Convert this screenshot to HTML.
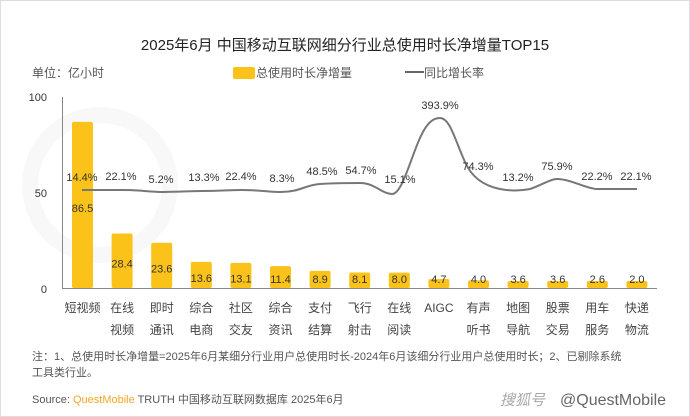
<!DOCTYPE html>
<html><head><meta charset="utf-8"><style>
body{margin:0;background:#fff}
svg{display:block}
text{font-family:"Liberation Sans","Noto Sans CJK SC",sans-serif}
</style></head><body>
<svg width="690" height="417" viewBox="0 0 690 417" xmlns="http://www.w3.org/2000/svg">
<rect x="0.5" y="0.5" width="689" height="416" fill="#fff" stroke="#ddd" stroke-width="1"/>
<circle cx="100" cy="185" r="70" fill="none" stroke="#f8f8f8" stroke-width="16"/>
<text x="345" y="50" text-anchor="middle" font-size="15" fill="#222">2025年6月 中国移动互联网细分行业总使用时长净增量TOP15</text>
<text x="32" y="77" font-size="12" fill="#555">单位：亿小时</text>
<rect x="233" y="67" width="22" height="12" rx="2" fill="#fbc21a"/>
<text x="256" y="77" font-size="12" fill="#555">总使用时长净增量</text>
<line x1="405" y1="72" x2="424" y2="72" stroke="#666" stroke-width="2"/>
<text x="424" y="77" font-size="12" fill="#555">同比增长率</text>
<g font-size="11" fill="#333" text-anchor="end">
<text x="47" y="101">100</text><text x="47" y="197">50</text><text x="47" y="293">0</text>
</g>
<line x1="62.5" y1="97" x2="62.5" y2="289" stroke="#888" stroke-width="1"/>
<line x1="62" y1="288.5" x2="657" y2="288.5" stroke="#888" stroke-width="1"/>
<g id="bars" fill="#fbc21a"></g>
<g id="blab" font-size="11" fill="#333" text-anchor="middle"></g>
<path d="M82,190 C100,190 110,190 123,190 C140,190 150,192 163,192 C180,192 190,191 202,191 C220,191 230,190 241,190 C260,190 270,192 281,192 C300,192 305,185 320,184 C335,183 345,183 360,183 C375,183 382,194 392,194 C402,194 410,160 420,138 C428,120 435,118 440,118 C450,118 455,140 465,162 C472,178 485,186 500,189 C510,191 520,191 530,189 C540,186 550,179 557,179 C570,179 585,188 596,189 C610,189 625,189 637,189" fill="none" stroke="#777" stroke-width="2"/>
<g font-size="11" fill="#333" text-anchor="middle">
<text x="82" y="181">14.4%</text><text x="121" y="180">22.1%</text><text x="161" y="183">5.2%</text>
<text x="204" y="181">13.3%</text><text x="241" y="180">22.4%</text><text x="282" y="182">8.3%</text>
<text x="322" y="175">48.5%</text><text x="361" y="174">54.7%</text><text x="400" y="183">15.1%</text>
<text x="440" y="109">393.9%</text><text x="478" y="170">74.3%</text><text x="518" y="181">13.2%</text>
<text x="557" y="170">75.9%</text><text x="597" y="180">22.2%</text><text x="636" y="180">22.1%</text>
</g>
<g id="cats" font-size="12" fill="#444" text-anchor="middle"></g>
<text x="32" y="360" font-size="11" fill="#555">注：1、总使用时长净增量=2025年6月某细分行业用户总使用时长-2024年6月该细分行业用户总使用时长；2、已剔除系统</text>
<text x="32" y="376" font-size="11" fill="#555">工具类行业。</text>
<text x="32" y="403" font-size="11" fill="#555">Source: <tspan fill="#f5a623">QuestMobile</tspan> TRUTH 中国移动互联网数据库 2025年6月</text>
<text x="500" y="405" font-size="15" fill="#aaa" font-style="italic">搜狐号</text>
<text x="560" y="405" font-size="16" fill="#666">@QuestMobile</text>
<script>
var v=[86.5,28.4,23.6,13.6,13.1,11.4,8.9,8.1,8.0,4.7,4.0,3.6,3.6,2.6,2.0];
var c=[["短视频",""],["在线","视频"],["即时","通讯"],["综合","电商"],["社区","交友"],["综合","资讯"],["支付","结算"],["飞行","射击"],["在线","阅读"],["AIGC",""],["有声","听书"],["地图","导航"],["股票","交易"],["用车","服务"],["快递","物流"]];
var ns="http://www.w3.org/2000/svg",b=document.getElementById("bars"),l=document.getElementById("blab"),k=document.getElementById("cats");
v.forEach(function(x,i){var cx=82.5+i*39.6,top=288-x*1.92;if(x<5)top=Math.min(top,281);
var r=document.createElementNS(ns,"rect");r.setAttribute("x",cx-10.5);r.setAttribute("y",top);r.setAttribute("width",21);r.setAttribute("height",288-top);r.setAttribute("rx",2);b.appendChild(r);
var t=document.createElementNS(ns,"text");var cy=Math.min((top+288)/2+3,279);t.setAttribute("x",cx);t.setAttribute("y",cy+4);t.textContent=x.toFixed(1);l.appendChild(t);
for(var j=0;j<2;j++){if(!c[i][j])continue;var u=document.createElementNS(ns,"text");u.setAttribute("x",cx);u.setAttribute("y",j?334:312);u.textContent=c[i][j];k.appendChild(u);}
});
</script>
</svg>
</body></html>
